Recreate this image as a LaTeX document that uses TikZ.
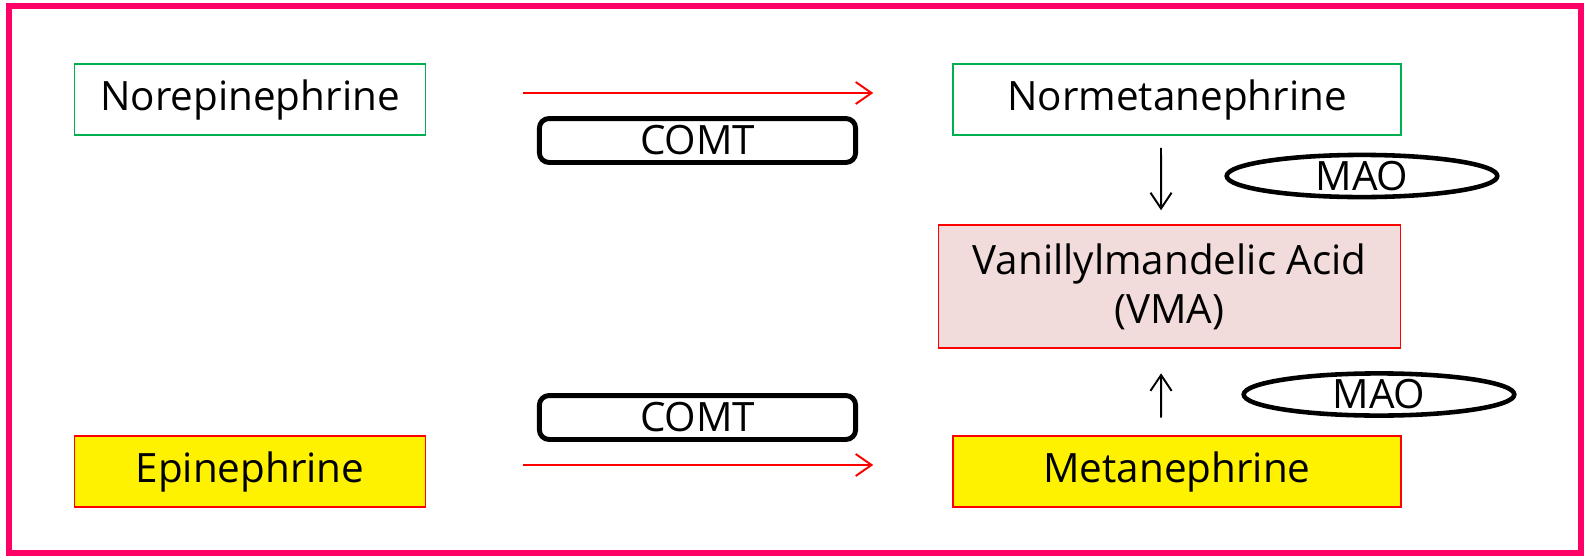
\documentclass[tikz,border=0pt]{standalone}
\usepackage{fontspec}
\setmainfont{Open Sans}
\usetikzlibrary{shapes.geometric, arrows.meta}

\definecolor{framepink}{HTML}{FF0066}
\definecolor{boxgreen}{HTML}{00B050}
\definecolor{vmafill}{HTML}{F2DCDB}

\tikzset{
  compound/.style={rectangle, draw, line width=0.8pt, minimum width=200pt,
    minimum height=40.4pt, font=\fontsize{23}{28}\selectfont, align=center},
  enzyme/.style={rectangle, draw, line width=2.8pt, rounded corners=5.5pt,
    minimum width=180pt, minimum height=25pt, font=\fontsize{23}{28}\selectfont},
  oxidase/.style={ellipse, draw, line width=2.6pt, minimum width=154pt,
    minimum height=24pt, inner sep=0pt, font=\fontsize{23}{28}\selectfont},
  flow/.style={draw=red, line width=1.1pt, -{Straight Barb[length=9pt, width=12.5pt]}},
  convert/.style={line width=1.1pt, -{Straight Barb[length=9pt, width=12pt]}}
}

\begin{document}
\begin{tikzpicture}[x=0.02cm, y=-0.02cm]
    \useasboundingbox (0,0) rectangle (1590,558);
    \draw[framepink, line width=3pt] (9,6) rectangle (1581,553);

    % Draw nodes
    \node[compound, draw=boxgreen] (norepi) at (250,99.5) {Norepinephrine};
    \node[compound, draw=boxgreen, minimum width=255pt] (normeta) at (1177,99.5) {Normetanephrine};
    \node[compound, draw=red, fill=vmafill, minimum width=263pt, minimum height=70pt] (vma) at (1169.5,286.5) {Vanillylmandelic Acid\\(VMA)};
    \node[compound, draw=red, fill=yellow] (epi) at (250,471.5) {Epinephrine};
    \node[compound, draw=red, fill=yellow, minimum width=255pt] (meta) at (1177,471.5) {Metanephrine};

    % Enzymes
    \node[enzyme] (comta) at (697.5,140.5) {COMT};
    \node[enzyme] (comtb) at (697.5,417.5) {COMT};
    \node[oxidase] (maoa) at (1362,176) {MAO};
    \node[oxidase] (maob) at (1379,394.5) {MAO};

    % Draw connections
    \draw[flow, shorten <=55pt, shorten >=45pt] ([yshift=3.7pt]norepi.east) -- ([yshift=3.7pt]normeta.west);
    \draw[flow, shorten <=55pt, shorten >=45pt] ([yshift=3.7pt]epi.east) -- ([yshift=3.7pt]meta.west);
    \draw[convert, shorten <=7pt, shorten >=8pt] ([xshift=-9.1pt]normeta.south) -- ([xshift=-4.8pt]vma.north);
    \draw[convert, shorten <=10pt, shorten >=14pt] ([xshift=-9.1pt]meta.north) -- ([xshift=-4.8pt]vma.south);
\end{tikzpicture}
\end{document}
